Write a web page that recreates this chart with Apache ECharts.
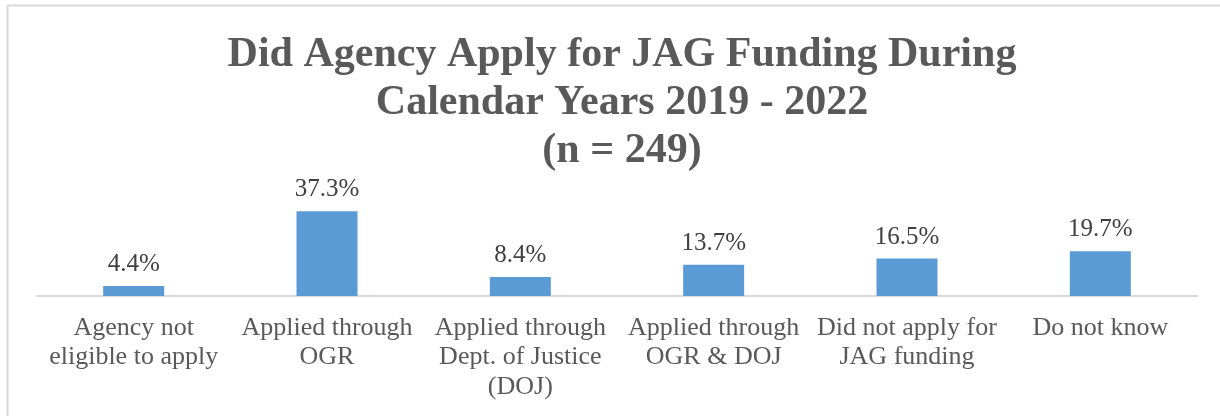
<!DOCTYPE html>
<html>
<head>
<meta charset="utf-8">
<script src="https://cdn.jsdelivr.net/npm/echarts@6/dist/echarts.min.js"></script>
<style>
  html, body { margin: 0; padding: 0; background: #fff; }
  #chart { width: 1220px; height: 416px; }
</style>
</head>
<body>
<div id="chart"></div>
<script>
const categories = [
  "Agency not\neligible to apply",
  "Applied through\nOGR",
  "Applied through\nDept. of Justice\n(DOJ)",
  "Applied through\nOGR & DOJ",
  "Did not apply for\nJAG funding",
  "Do not know"
];
const percents = [4.4, 37.3, 8.4, 13.7, 16.5, 19.7];

const serif = "'Liberation Serif', 'Times New Roman', serif";

const chart = echarts.init(document.getElementById("chart"));
chart.setOption({
  animation: false,
  title: {
    text: "Did Agency Apply for JAG Funding During\nCalendar Years 2019 - 2022\n(n = 249)",
    left: 617,
    top: 26,
    textAlign: "center",
    textStyle: {
      fontFamily: serif,
      fontWeight: "bold",
      fontSize: 42,
      lineHeight: 48,
      color: "#595959"
    }
  },
  graphic: [
    {
      type: "polyline",
      shape: { points: [[7.5, 416], [7.5, 5.5], [1220, 5.5]] },
      style: { stroke: "#d9d9d9", lineWidth: 2, fill: null }
    }
  ],
  grid: { left: 37, right: 23, top: 205, bottom: 120 },
  xAxis: {
    type: "category",
    data: categories,
    axisLine: { lineStyle: { color: "#d9d9d9", width: 2 } },
    axisTick: { show: false },
    axisLabel: {
      interval: 0,
      margin: 17,
      fontFamily: serif,
      fontSize: 26,
      lineHeight: 29.5,
      color: "#595959"
    }
  },
  yAxis: {
    type: "value",
    min: 0,
    max: 40,
    show: false,
    splitLine: { show: false }
  },
  series: [
    {
      type: "bar",
      data: percents,
      barWidth: 61,
      itemStyle: { color: "#5b9bd5" },
      label: {
        show: true,
        position: "top",
        distance: 9,
        formatter: (p) => p.value.toFixed(1) + "%",
        fontFamily: serif,
        fontSize: 25,
        color: "#404040"
      }
    }
  ]
});
</script>
</body>
</html>
